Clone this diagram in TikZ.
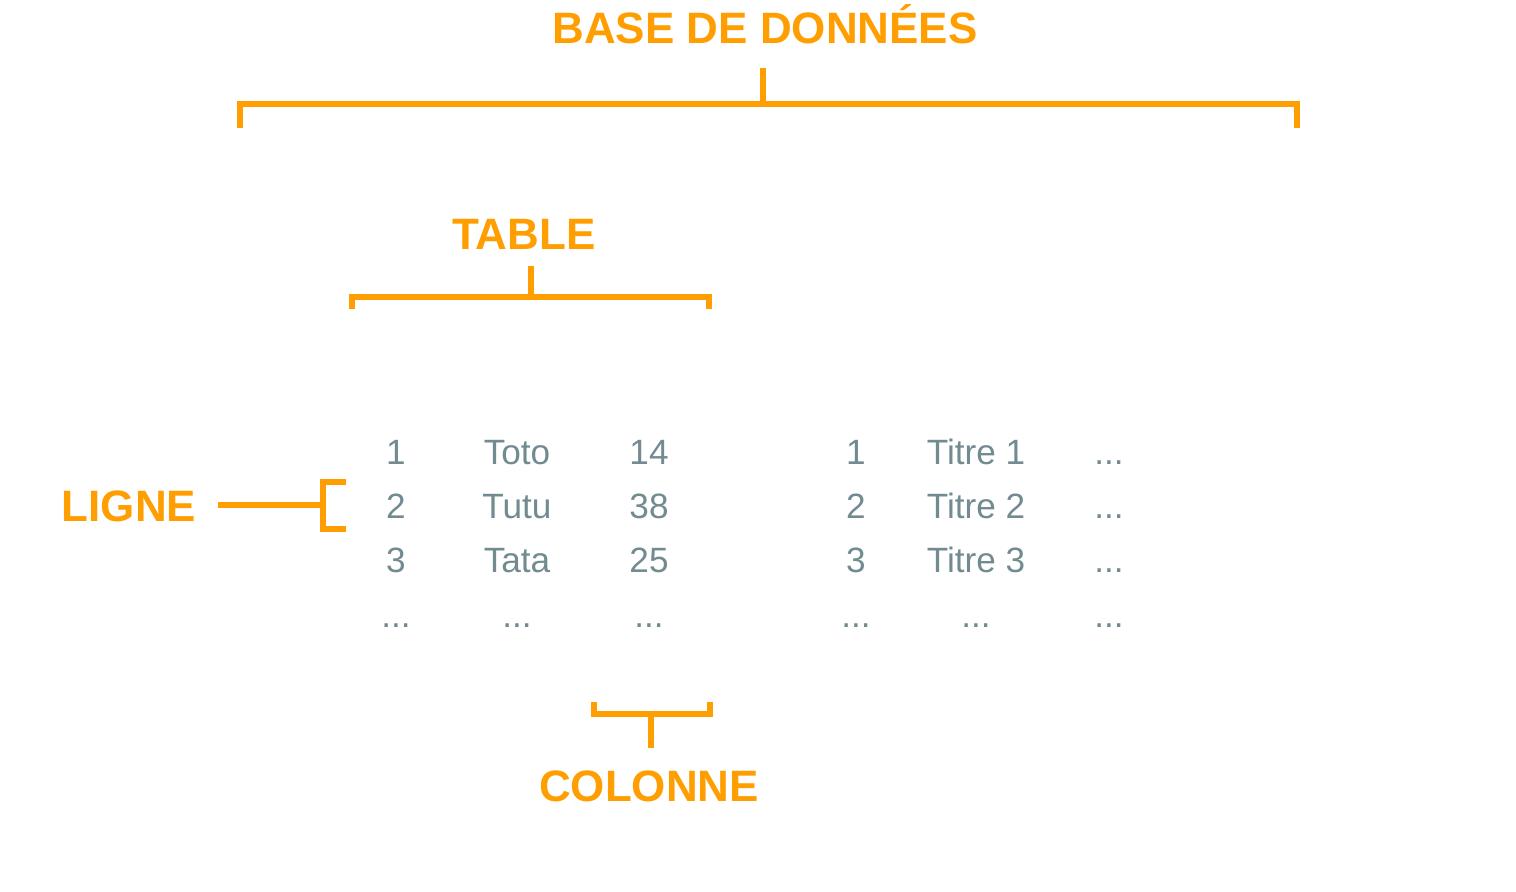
\documentclass[tikz,border=0pt]{standalone}
\usepackage{fontspec}
\setmainfont{Liberation Sans}
\definecolor{dborange}{HTML}{FF9E00}
\definecolor{dbgray}{HTML}{728B90}
\tikzset{
  dblabel/.style={text=dborange, font=\fontsize{12.5}{15}\selectfont\bfseries, inner sep=0pt, anchor=base},
  cell/.style={text=dbgray, font=\fontsize{10}{12}\selectfont, inner sep=0pt, anchor=base},
  brace/.style={draw=dborange, line width=1.45pt}
}

\begin{document}
\begin{tikzpicture}[x=0.01cm, y=-0.01cm]
\useasboundingbox (0,0) rectangle (1516,892);
% labels
\node[dblabel] (base) at (765,44) {BASE DE DONNÉES};
\node[dblabel] (table) at (524,250) {TABLE};
\node[dblabel] (ligne) at (129,522) {LIGNE};
\node[dblabel] (colonne) at (649,801) {COLONNE};

% bracket for the whole base
\coordinate (basetop) at (763,68);
\coordinate (basemid) at (763,104);
\draw[brace] (240,128) -- (240,104) -- (1297,104) -- (1297,128);
\draw[brace] (basetop) -- (basemid);

% bracket for one table
\coordinate (tabletop) at (531,266);
\coordinate (tablemid) at (531,297);
\draw[brace] (352,309) -- (352,297) -- (709,297) -- (709,309);
\draw[brace] (tabletop) -- (tablemid);

% bracket for one row
\coordinate (lignestart) at (218,505);
\coordinate (lignemid) at (323,505);
\draw[brace] (346,482) -- (323,482) -- (323,529) -- (346,529);
\draw[brace] (lignestart) -- (lignemid);

% bracket for one column
\coordinate (colonnebot) at (651,748);
\coordinate (colonnemid) at (651,714);
\draw[brace] (594,702) -- (594,714) -- (710,714) -- (710,702);
\draw[brace] (colonnemid) -- (colonnebot);

% first table
\node[cell] (a11) at (396,465) {1};
\node[cell] (a12) at (517,465) {Toto};
\node[cell] (a13) at (649,465) {14};
\node[cell] (a21) at (396,519) {2};
\node[cell] (a22) at (517,519) {Tutu};
\node[cell] (a23) at (649,519) {38};
\node[cell] (a31) at (396,573) {3};
\node[cell] (a32) at (517,573) {Tata};
\node[cell] (a33) at (649,573) {25};
\node[cell] (a41) at (396,627) {...};
\node[cell] (a42) at (517,627) {...};
\node[cell] (a43) at (649,627) {...};

% second table
\node[cell] (b11) at (856,465) {1};
\node[cell] (b12) at (976,465) {Titre 1};
\node[cell] (b13) at (1109,465) {...};
\node[cell] (b21) at (856,519) {2};
\node[cell] (b22) at (976,519) {Titre 2};
\node[cell] (b23) at (1109,519) {...};
\node[cell] (b31) at (856,573) {3};
\node[cell] (b32) at (976,573) {Titre 3};
\node[cell] (b33) at (1109,573) {...};
\node[cell] (b41) at (856,627) {...};
\node[cell] (b42) at (976,627) {...};
\node[cell] (b43) at (1109,627) {...};
\end{tikzpicture}
\end{document}
